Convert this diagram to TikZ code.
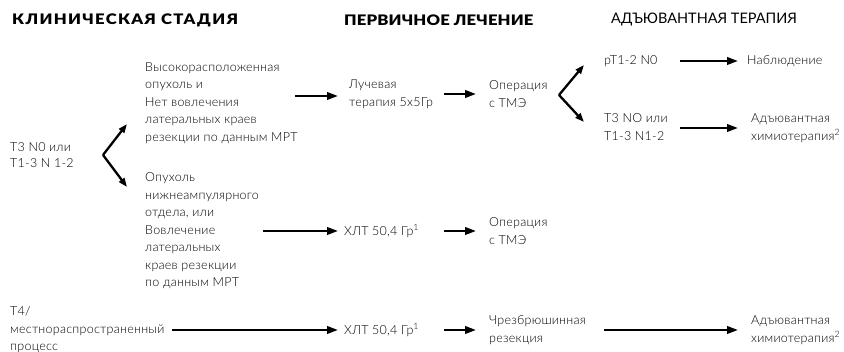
\documentclass[tikz,border=0pt]{standalone}
\usepackage{fontspec}
\setmainfont{Lato}[UprightFont=* Light, BoldFont=* Black]
\newfontfamily\hdrreg{Lato}
\usetikzlibrary{arrows.meta,calc}
\begin{document}
\begin{tikzpicture}[x=1pt,y=-1pt,
 txt/.style={anchor=west, align=left, inner sep=0pt, font=\fontsize{12.5}{17.5}\selectfont\addfontfeature{LetterSpace=2}},
 hdr/.style={anchor=west, inner sep=0pt, font=\fontsize{14.5}{16}\selectfont\bfseries\addfontfeature{FakeStretch=1.15}},
 arr/.style={line width=2.3pt, -{Triangle[length=11pt,width=7.5pt]}},
 brk/.style={line width=2.3pt, -{Triangle[length=9pt,width=6.5pt]}}]
\useasboundingbox (0,0) rectangle (844,352);
\node[hdr] (h1) at (12,20) {\addfontfeature{LetterSpace=9}КЛИНИЧЕСКАЯ СТАДИЯ};
\node[hdr] (h2) at (344,20) {\addfontfeature{LetterSpace=1}ПЕРВИЧНОЕ ЛЕЧЕНИЕ};
\node[hdr,font=\fontsize{14.5}{16}\hdrreg] (h3) at (611,20) {АДЪЮВАНТНАЯ ТЕРАПИЯ};

\node[txt,font=\fontsize{12.5}{16}\selectfont\addfontfeature{LetterSpace=2}] (st) at (10,155.5) {T3 N0 или\\T1-3 N 1-2};
\node[txt] (up) at (145,103) {Высокорасположенная\\опухоль и\\Нет вовлечения\\латеральных краев\\резекции по данным МРТ};
\node[txt] (lo) at (145,231) {Опухоль\\нижнеампулярного\\отдела, или\\Вовлечение\\латеральных\\краев резекции\\по данным МРТ};
\node[txt] (lt) at (349,94) {Лучевая\\терапия 5x5Гр};
\node[txt] (op1) at (489,94) {Операция\\с ТМЭ};
\node[txt] (pt) at (604,61) {pT1-2 N0};
\node[txt] (nab) at (747,61) {Наблюдение};
\node[txt] (t3) at (604,127) {T3 NO или\\T1-3 N1-2};
\node[txt] (ad1) at (751,128) {Адъювантная\\химиотерапия\textsuperscript{2}};
\node[txt] (xlt1) at (344,231) {ХЛТ 50,4 Гр\textsuperscript{1}};
\node[txt] (op2) at (489,231) {Операция\\с ТМЭ};
\node[txt] (t4) at (10,330) {T4/\\местнораспространенный\\процесс};
\node[txt] (xlt2) at (344,330) {ХЛТ 50,4 Гр\textsuperscript{1}};
\node[txt] (chr) at (489,330) {Чрезбрюшинная\\резекция};
\node[txt] (ad2) at (751,330) {Адъювантная\\химиотерапия\textsuperscript{2}};

% brackets
\coordinate (a1) at (103,155);
\coordinate (a1u) at (127,124);
\coordinate (a1d) at (127,187);
\draw[brk] (a1) -- (a1u);
\draw[brk] (a1) -- (a1d);
\coordinate (a2) at (559,95);
\coordinate (a2u) at (584,65);
\coordinate (a2d) at (584,122);
\draw[brk] (a2) -- (a2u);
\draw[brk] (a2) -- (a2d);

% arrows
\draw[arr] ($(lt.west)+(-54,2)$) -- ($(lt.west)+(-11,2)$);
\draw[arr] ($(op1.west)+(-45,0)$) -- ($(op1.west)+(-13,0)$);
\draw[arr] ($(nab.west)+(-67,0)$) -- ($(nab.west)+(-9,0)$);
\draw[arr] ($(ad1.west)+(-71,0)$) -- ($(ad1.west)+(-13,0)$);
\draw[arr] ($(xlt1.west)+(-81,0)$) -- ($(xlt1.west)+(-6,0)$);
\draw[arr] ($(op2.west)+(-45,0)$) -- ($(op2.west)+(-13,0)$);
\draw[arr] ($(xlt2.west)+(-172,0)$) -- ($(xlt2.west)+(-6,0)$);
\draw[arr] ($(chr.west)+(-45,0)$) -- ($(chr.west)+(-13,0)$);
\draw[arr] ($(ad2.west)+(-147,0)$) -- ($(ad2.west)+(-13,0)$);
\end{tikzpicture}
\end{document}
